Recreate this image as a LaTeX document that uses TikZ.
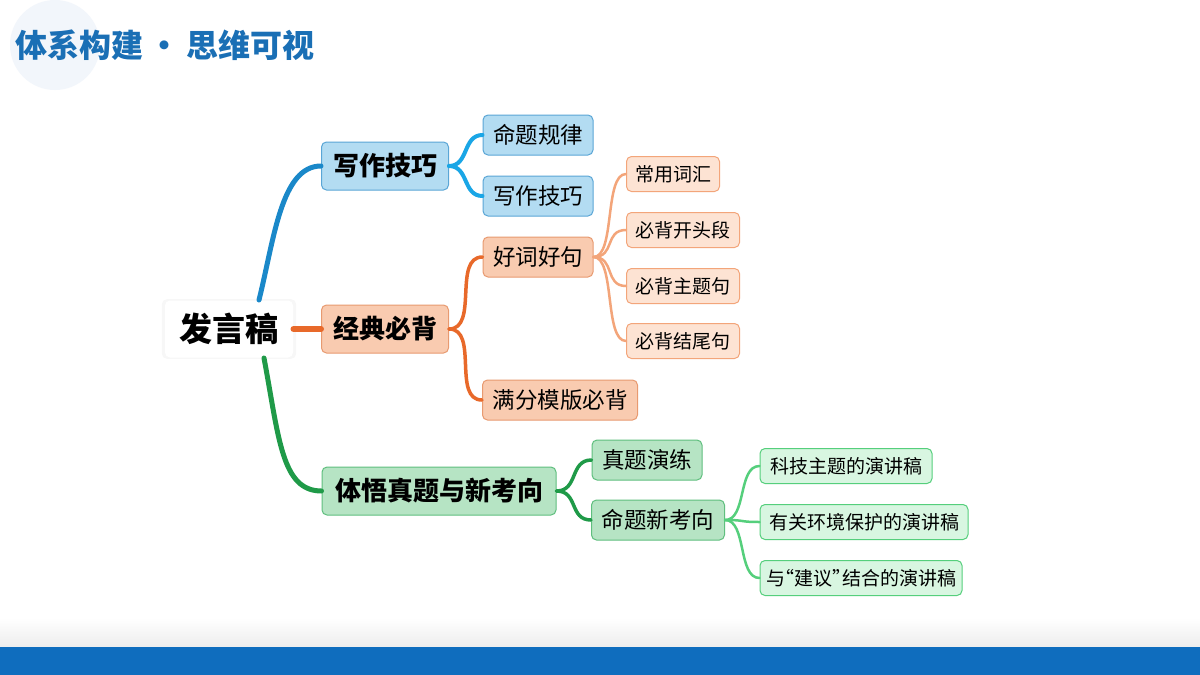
\documentclass[tikz,border=0pt]{standalone}
\usepackage{fontspec}
\setmainfont{Noto Sans CJK SC}
\usetikzlibrary{positioning,calc,shadows}
\definecolor{titleblue}{HTML}{1A6FB5}
\definecolor{barblue}{HTML}{0F6DBE}
\definecolor{lblue}{HTML}{1A88C9}
\definecolor{lblue2}{HTML}{1AA6E6}
\definecolor{fblue}{HTML}{B3DCF2}
\definecolor{bblue}{HTML}{5AA6D6}
\definecolor{lorange}{HTML}{E8692A}
\definecolor{forange}{HTML}{F9CBB0}
\definecolor{borange}{HTML}{E89A70}
\definecolor{lorange3}{HTML}{F3A57A}
\definecolor{forange3}{HTML}{FDE3D3}
\definecolor{lgreen}{HTML}{1F9A48}
\definecolor{fgreen}{HTML}{B6E4C4}
\definecolor{bgreen}{HTML}{5FBF7E}
\definecolor{lgreen3}{HTML}{55CF7C}
\definecolor{fgreen3}{HTML}{D8F6E1}
\definecolor{halo}{HTML}{F2F6FB}
\tikzset{
  box/.style={rounded corners=5pt, inner sep=0pt, text=black, draw, line width=1pt},
  topic/.style={box, fill=fblue, draw=bblue, minimum height=48pt, font=\fontsize{26}{28}\selectfont\bfseries},
  sub/.style={box, minimum height=40pt, font=\fontsize{22.5}{24}\selectfont},
  leaf/.style={box, minimum height=35pt, font=\fontsize{19}{21}\selectfont},
  link/.style={line width=#1, line cap=round},
}
\begin{document}
\begin{tikzpicture}[x=1pt,y=-1pt]
\useasboundingbox (0,0) rectangle (1200,675);
\fill[white] (0,0) rectangle (1200,675);
% header and footer
\fill[halo] (55,45) circle (45);
\node[anchor=west, text=titleblue, font=\fontsize{32}{34}\selectfont\bfseries] (title) at (12,45) {体系构建\,·\,思维可视};
\shade[top color=white, bottom color=black!7] (0,618) rectangle (1200,647);
\fill[barblue] (0,647) rectangle (1200,675);
% nodes
\node[box, draw=none, fill=white, drop shadow={opacity=0.06, shadow xshift=0pt, shadow yshift=0pt, shadow scale=1.05}, minimum width=128pt, minimum height=57pt, font=\fontsize{33}{35}\selectfont\bfseries] (root) at (229,329) {发言稿};
\node[topic, minimum width=127pt] (skill) at (385,166) {写作技巧};
\node[topic, fill=forange, draw=borange, minimum width=127pt] (classic) at (385,329) {经典必背};
\node[topic, fill=fgreen, draw=bgreen, minimum width=234pt] (real) at (439,491) {体悟真题与新考向};
\node[sub, fill=fblue, draw=bblue, minimum width=110pt] (rule) at (538,135) {命题规律};
\node[sub, fill=fblue, draw=bblue, minimum width=110pt] (skill2) at (538,196) {写作技巧};
\node[sub, fill=forange, draw=borange, minimum width=110pt] (words) at (538,257) {好词好句};
\node[sub, fill=forange, draw=borange, minimum width=155pt] (model) at (560,400) {满分模版必背};
\node[leaf, fill=forange3, draw=lorange3, minimum width=93pt] (vocab) at (673,174) {常用词汇};
\node[leaf, fill=forange3, draw=lorange3, minimum width=113pt] (opening) at (683,230) {必背开头段};
\node[leaf, fill=forange3, draw=lorange3, minimum width=113pt] (theme) at (683,286) {必背主题句};
\node[leaf, fill=forange3, draw=lorange3, minimum width=113pt] (ending) at (683,341) {必背结尾句};
\node[sub, fill=fgreen, draw=bgreen, minimum width=110pt] (drill) at (647,460) {真题演练};
\node[sub, fill=fgreen, draw=bgreen, minimum width=133pt] (newdir) at (658,520) {命题新考向};
\node[leaf, fill=fgreen3, draw=lgreen3, minimum width=172pt] (tech) at (846,466) {科技主题的演讲稿};
\node[leaf, fill=fgreen3, draw=lgreen3, minimum width=208pt] (env) at (864,522) {有关环境保护的演讲稿};
\node[leaf, fill=fgreen3, draw=lgreen3, minimum width=202pt] (advice) at (861,578) {与\kern-0.5em“建议”\kern-0.5em结合的演讲稿};
% connectors
\draw[link=5pt, lblue] (root.north) ++(30,0) .. controls +(15,-60) and +(-40,0) .. (skill.west);
\draw[link=6pt, lorange] (root.east) -- (classic.west);
\draw[link=5pt, lgreen] (root.south) ++(35,0) .. controls +(15,80) and +(-40,0) .. (real.west);
\foreach \c in {rule,skill2}
  \draw[link=4pt, lblue2] (skill.east) .. controls +(20,0) and +(-20,0) .. (\c.west);
\foreach \c in {words,model}
  \draw[link=3.5pt, lorange] (classic.east) .. controls +(30,0) and +(-30,0) .. (\c.west);
\foreach \c in {vocab,opening,theme,ending}
  \draw[link=2.5pt, lorange3] (words.east) .. controls +(22,0) and +(-22,0) .. (\c.west);
\foreach \c in {drill,newdir}
  \draw[link=3.5pt, lgreen] (real.east) .. controls +(22,0) and +(-22,0) .. (\c.west);
\foreach \c in {tech,env,advice}
  \draw[link=2.5pt, lgreen3] (newdir.east) .. controls +(22,0) and +(-22,0) .. (\c.west);
\end{tikzpicture}
\end{document}
